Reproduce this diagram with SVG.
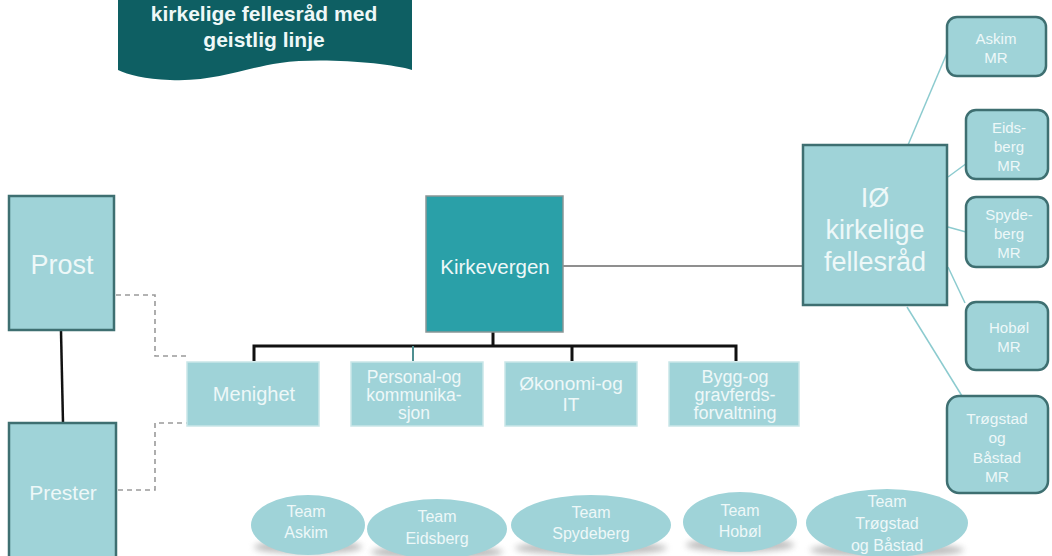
<svg xmlns="http://www.w3.org/2000/svg" width="1052" height="556" viewBox="0 0 1052 556">
  <style>
    text { font-family: "Liberation Sans", Arial, sans-serif; fill: #eef8f8; text-anchor: middle; dominant-baseline: central; }
    .box { fill: #9fd3d8; stroke: #3e6f71; stroke-width: 2.5; }
    .dept { fill: #9fd3d8; stroke: #c9e6e8; stroke-width: 1.5; }
    .mr { fill: #9fd3d8; stroke: #3e6f71; stroke-width: 2.5; }
    .team { fill: #9fd3d8; }
    .shadow { fill: #8a8a8a; opacity: 0.55; filter: url(#blur); }
    .bus { stroke: #111; stroke-width: 3; fill: none; }
    .dash { stroke: #9a9a9a; stroke-width: 1.6; stroke-dasharray: 5 4; fill: none; }
    .thin { stroke: #8ccbcf; stroke-width: 1.5; fill: none; }
  </style>
  <defs>
    <filter id="blur" x="-20%" y="-50%" width="140%" height="200%"><feGaussianBlur stdDeviation="3"/></filter>
  </defs>
  <rect width="1052" height="556" fill="#ffffff"/>

  <g id="banner">
    <path d="M118,0 L412,0 L412,70 C390,63 320,57 280,63 C240,69 215,82 170,80 C145,79 128,75 118,70 Z" fill="#0e5f63"/>
    <text x="264" y="13" font-size="21" font-weight="bold">kirkelige fellesråd med</text>
    <text x="264" y="39" font-size="21" font-weight="bold">geistlig linje</text>
  </g>

  <g id="connectors">
    <line x1="61" y1="331" x2="63" y2="423" stroke="#111" stroke-width="2.5"/>
    <polyline class="dash" points="116,295 155,295 155,356 188,356"/>
    <polyline class="dash" points="118,490 155,490 155,423 188,423"/>
    <line x1="563" y1="266" x2="803" y2="266" stroke="#6a6a6a" stroke-width="1.5"/>
    <line x1="493" y1="332" x2="493" y2="346" stroke="#111" stroke-width="3"/>
    <polyline class="bus" points="254,361 254,346 736,346 736,361"/>
    <line x1="572" y1="346" x2="572" y2="361" stroke="#111" stroke-width="3"/>
    <line x1="413" y1="346" x2="413" y2="361" stroke="#4f8f91" stroke-width="2"/>
    <line class="thin" x1="908" y1="145" x2="947" y2="53"/>
    <line class="thin" x1="948" y1="177" x2="967" y2="163"/>
    <line class="thin" x1="948" y1="227" x2="966" y2="232"/>
    <line class="thin" x1="948" y1="267" x2="965" y2="303"/>
    <line class="thin" x1="907" y1="307" x2="962" y2="396"/>
  </g>

  <g id="prost">
    <rect class="box" x="9" y="196" width="105" height="134"/>
    <text x="62" y="265" font-size="27">Prost</text>
  </g>
  <g id="prester">
    <rect class="box" x="9" y="423" width="107" height="140"/>
    <text x="63" y="492" font-size="21">Prester</text>
  </g>

  <g id="kirkevergen">
    <rect x="426" y="196" width="137" height="136" fill="#2aa0a8" stroke="#8a9696" stroke-width="1.5"/>
    <text x="495" y="266" font-size="20.5" fill="#e4f6f6">Kirkevergen</text>
  </g>

  <g id="menighet">
    <rect class="dept" x="187" y="362" width="132" height="64"/>
    <text x="254" y="394" font-size="20">Menighet</text>
  </g>
  <g id="personal">
    <rect class="dept" x="351" y="362" width="132" height="64"/>
    <text x="414" y="377" font-size="17.5">Personal-og</text>
    <text x="414" y="395" font-size="17.5">kommunika-</text>
    <text x="414" y="413" font-size="17.5">sjon</text>
  </g>
  <g id="okonomi">
    <rect class="dept" x="505" y="362" width="132" height="64"/>
    <text x="571" y="383" font-size="19">Økonomi-og</text>
    <text x="571" y="404" font-size="19">IT</text>
  </g>
  <g id="bygg">
    <rect class="dept" x="669" y="362" width="130" height="64"/>
    <text x="735" y="377" font-size="18">Bygg-og</text>
    <text x="735" y="395" font-size="18">gravferds-</text>
    <text x="735" y="413" font-size="18">forvaltning</text>
  </g>

  <g id="io">
    <rect class="box" x="803" y="145" width="144" height="160"/>
    <text x="875" y="198" font-size="27">IØ</text>
    <text x="875" y="230" font-size="27">kirkelige</text>
    <text x="875" y="262" font-size="27">fellesråd</text>
  </g>

  <g id="askim-mr">
    <rect class="mr" x="947" y="17" width="99" height="59" rx="10"/>
    <text x="996" y="38" font-size="15">Askim</text>
    <text x="996" y="57" font-size="15">MR</text>
  </g>
  <g id="eidsberg-mr">
    <rect class="mr" x="966" y="110" width="82" height="69" rx="10"/>
    <text x="1009" y="127" font-size="15">Eids-</text>
    <text x="1009" y="146" font-size="15">berg</text>
    <text x="1009" y="165" font-size="15">MR</text>
  </g>
  <g id="spydeberg-mr">
    <rect class="mr" x="966" y="197" width="82" height="70" rx="10"/>
    <text x="1009" y="214" font-size="15">Spyde-</text>
    <text x="1009" y="233" font-size="15">berg</text>
    <text x="1009" y="252" font-size="15">MR</text>
  </g>
  <g id="hobol-mr">
    <rect class="mr" x="966" y="302" width="82" height="68" rx="10"/>
    <text x="1009" y="327" font-size="15">Hobøl</text>
    <text x="1009" y="346" font-size="15">MR</text>
  </g>
  <g id="trogstad-mr">
    <rect class="mr" x="947" y="396" width="101" height="97" rx="12"/>
    <text x="997" y="418" font-size="15.5">Trøgstad</text>
    <text x="997" y="437" font-size="15.5">og</text>
    <text x="997" y="457" font-size="15.5">Båstad</text>
    <text x="997" y="476" font-size="15.5">MR</text>
  </g>

  <g id="team-askim">
    <ellipse class="shadow" cx="308" cy="547" rx="54" ry="7"/>
    <ellipse class="team" cx="308" cy="525" rx="57" ry="30"/>
    <text x="306" y="511" font-size="16">Team</text>
    <text x="306" y="532" font-size="16">Askim</text>
  </g>
  <g id="team-eidsberg">
    <ellipse class="shadow" cx="437" cy="552" rx="66" ry="7"/>
    <ellipse class="team" cx="437" cy="529" rx="70" ry="30"/>
    <text x="437" y="516" font-size="16">Team</text>
    <text x="437" y="538" font-size="16">Eidsberg</text>
  </g>
  <g id="team-spydeberg">
    <ellipse class="shadow" cx="591" cy="548" rx="76" ry="7"/>
    <ellipse class="team" cx="591" cy="525" rx="80" ry="30"/>
    <text x="591" y="512" font-size="16">Team</text>
    <text x="591" y="533" font-size="16">Spydeberg</text>
  </g>
  <g id="team-hobol">
    <ellipse class="shadow" cx="740" cy="545" rx="54" ry="7"/>
    <ellipse class="team" cx="740" cy="522" rx="57" ry="30"/>
    <text x="740" y="510" font-size="16">Team</text>
    <text x="740" y="531" font-size="16">Hobøl</text>
  </g>
  <g id="team-trogstad">
    <ellipse class="shadow" cx="887" cy="550" rx="77" ry="7"/>
    <ellipse class="team" cx="887" cy="523" rx="81" ry="34"/>
    <text x="887" y="501" font-size="16">Team</text>
    <text x="887" y="523" font-size="16">Trøgstad</text>
    <text x="887" y="545" font-size="16">og Båstad</text>
  </g>
</svg>
